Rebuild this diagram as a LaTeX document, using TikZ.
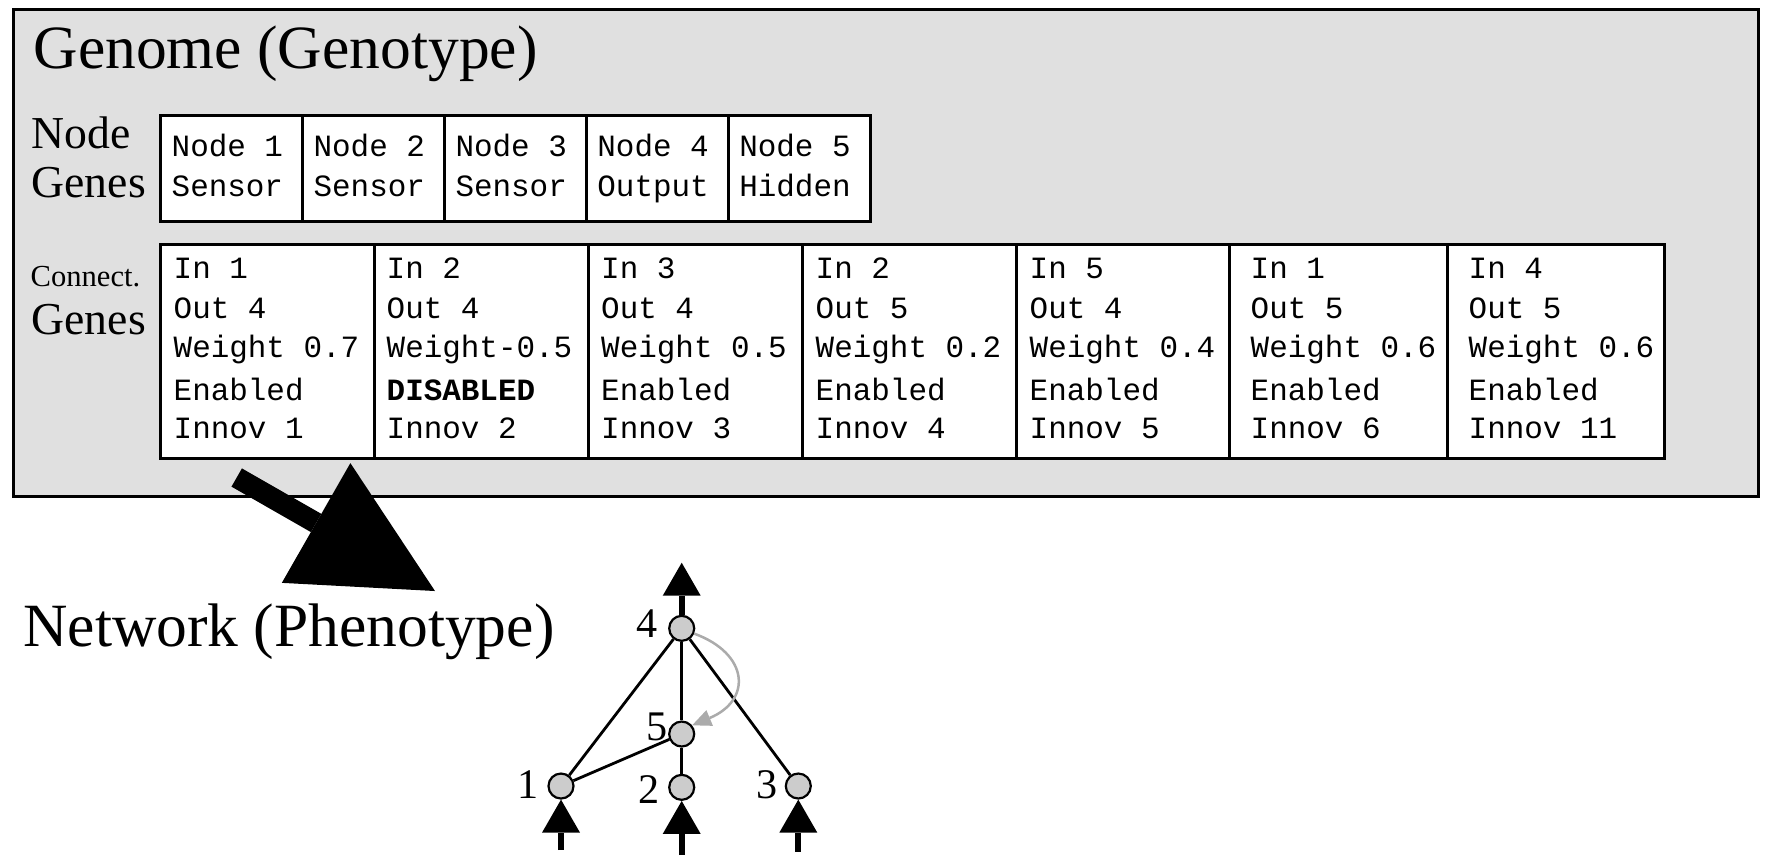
\documentclass[tikz,border=0pt]{standalone}
\usepackage{fontspec}
\setmainfont{Liberation Serif}
\setmonofont{Liberation Mono}
\usetikzlibrary{arrows.meta}

\begin{document}
\begin{tikzpicture}
  [x=0.1mm,y=-0.1mm,every node/.style={inner sep=0pt},
   frame/.style={draw,line width=0.3mm,fill=black!12,anchor=north west},
   gene/.style={draw,line width=0.3mm,fill=white,anchor=north west},
   genetext/.style={anchor=base west,font=\fontsize{8.8}{10}\ttfamily},
   bigtext/.style={anchor=base west,font=\fontsize{17.5}{20}\selectfont},
   sidetext/.style={anchor=base west,font=\fontsize{13}{15}\selectfont},
   neuron/.style={circle,draw,line width=0.22mm,fill=black!20,minimum size=2.5mm},
   numtext/.style={anchor=base,font=\fontsize{12}{14}\selectfont},
   link/.style={line width=0.28mm},
   recur/.style={line width=0.25mm,black!33,-{Triangle[length=1.9mm,width=1.7mm,line width=0pt]}},
   io/.style={line width=0.6mm,-{Triangle[length=3.3mm,width=3.8mm,line width=0pt]}}]
  \useasboundingbox (0,0) rectangle (1772,858);

  % genome box
  \node[frame,minimum width=174.5mm,minimum height=48.67mm] (genome) at (11.5,8.3) {};
  \node[bigtext] (gtitle) at (33,68) {Genome (Genotype)};
  \node[sidetext] (nglab1) at (31,148) {Node};
  \node[sidetext] (nglab2) at (31,197) {Genes};
  \node[anchor=base west,font=\fontsize{8.7}{10}\selectfont] (cglab1) at (30,286) {Connect.};
  \node[sidetext] (cglab2) at (31,334) {Genes};

  % node genes
  \foreach \i/\kind in {1/Sensor,2/Sensor,3/Sensor,4/Output,5/Hidden} {
    \node[gene,minimum width=14.19mm,minimum height=10.57mm] (ng\i) at ({159+141.9*(\i-1)},114.3) {};
    \node[genetext] (ngn\i) at ({171+141.9*(\i-1)},156) {Node \i};
    \node[genetext] (ngk\i) at ({171+141.9*(\i-1)},196) {\kind};
  }

  % connection genes
  \foreach \i/\x/\w/\p/\gin/\gout/\wt/\st/\inn in {
      1/159/214/14/1/4/Weight 0.7/Enabled/1,
      2/373/214/13/2/4/Weight-0.5/{\textbf{DISABLED}}/2,
      3/587/214/13.5/3/4/Weight 0.5/Enabled/3,
      4/801/214/14/2/5/Weight 0.2/Enabled/4,
      5/1015/213/14/5/4/Weight 0.4/Enabled/5,
      6/1228/218/22/1/5/Weight 0.6/Enabled/6,
      7/1446/217/22/4/5/Weight 0.6/Enabled/11} {
    \node[gene,minimum width={\w*0.1mm},minimum height=21.4mm] (cg\i) at (\x,243.3) {};
    \node[genetext] (cgi\i) at ({\x+\p},278) {In \gin};
    \node[genetext] (cgo\i) at ({\x+\p},318) {Out \gout};
    \node[genetext] (cgw\i) at ({\x+\p},357) {\wt};
    \node[genetext] (cge\i) at ({\x+\p},400.5) {\st};
    \node[genetext] (cgn\i) at ({\x+\p},438) {Innov \inn};
  }

  % genotype -> phenotype
  \coordinate (gtail) at (236.7,477.5);
  \coordinate (gtip) at (435,591);
  \draw[line width=2.1mm,-{Triangle[length=13.7mm,width=13.8mm,line width=0pt]}] (gtail) -- (gtip);
  \node[bigtext] (ptitle) at (22.6,646) {Network (Phenotype)};

  % network
  \node[neuron] (n4) at (681.7,628.3) {};
  \node[neuron] (n5) at (681.7,734) {};
  \node[neuron] (n1) at (561,786) {};
  \node[neuron] (n2) at (681.7,787.3) {};
  \node[neuron] (n3) at (798.3,786) {};
  \node[numtext] (l4) at (647.5,637) {4};
  \node[numtext] (l5) at (657,740) {5};
  \node[numtext] (l1) at (528.3,798) {1};
  \node[numtext] (l2) at (649.3,803.3) {2};
  \node[numtext] (l3) at (767.3,798) {3};

  \foreach \from/\to in {n1/n4,n1/n5,n2/n5,n3/n4,n5/n4}
    \draw[link] (\from) -- (\to);
  \draw[recur] (n4.-23) .. controls +(55,20) and +(60,-25) .. (n5.40);

  \coordinate (in1) at (561,850);
  \coordinate (in2) at (681.7,855);
  \coordinate (in3) at (798.3,851.7);
  \coordinate (out4) at (681.7,562.7);
  \foreach \src/\dst in {in1/n1,in2/n2,in3/n3,n4/out4}
    \draw[io] (\src) -- (\dst);
\end{tikzpicture}
\end{document}
